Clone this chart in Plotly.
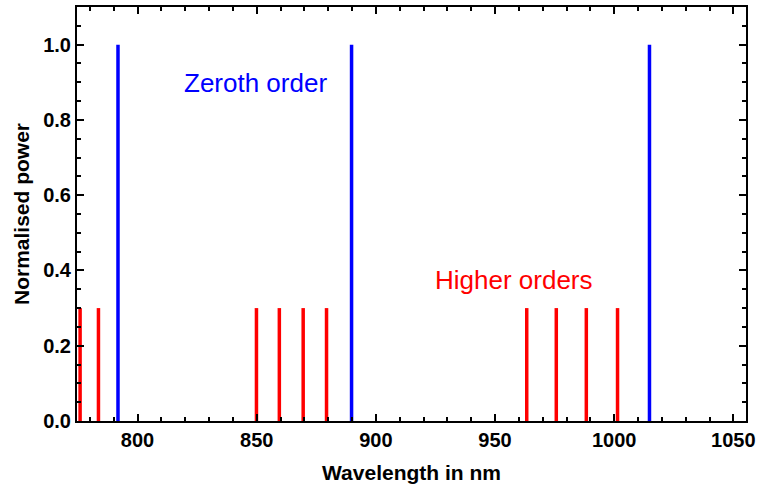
import plotly.graph_objects as go

# Line positions (nm) and normalised power
zeroth_wl = [791.8, 889.8, 1014.8]
zeroth_pw = [1.0, 1.0, 1.0]
higher_wl = [775.9, 783.6, 849.9, 859.5, 869.5, 879.3, 963.3, 975.7, 988.3, 1001.4]
higher_pw = [0.3] * len(higher_wl)

x_ticks = [800, 850, 900, 950, 1000, 1050]
y_ticks = [0.0, 0.2, 0.4, 0.6, 0.8, 1.0]


def stick_xy(wl, pw):
    xs, ys = [], []
    for w, p in zip(wl, pw):
        xs += [w, w, None]
        ys += [0, p, None]
    return xs, ys


fig = go.Figure()
hx, hy = stick_xy(higher_wl, higher_pw)
fig.add_trace(go.Scatter(x=hx, y=hy, mode="lines",
                         line=dict(color="#ff0000", width=3.5), showlegend=False))
zx, zy = stick_xy(zeroth_wl, zeroth_pw)
fig.add_trace(go.Scatter(x=zx, y=zy, mode="lines",
                         line=dict(color="#0000ff", width=3.5), showlegend=False))

fig.add_annotation(x=849.6, y=0.897, text="Zeroth order", showarrow=False,
                   font=dict(family="Liberation Sans, Arial", size=26, color="#0000ff"))
fig.add_annotation(x=958, y=0.375, text="Higher orders", showarrow=False,
                   font=dict(family="Liberation Sans, Arial", size=26, color="#ff0000"))

tick_font = dict(family="Liberation Sans, Arial", size=20, color="black", weight="bold")
title_font = dict(family="Liberation Sans, Arial", size=21, color="black", weight="bold")

fig.update_xaxes(range=[774.6, 1055.3], tickvals=x_ticks, ticktext=[str(v) for v in x_ticks],
                 ticks="inside", ticklen=7, tickwidth=2, tickcolor="black",
                 minor=dict(dtick=10, tick0=800, ticks="inside", ticklen=4, tickwidth=1.5, tickcolor="black"),
                 showline=True, linecolor="black", linewidth=2, mirror="ticks",
                 showgrid=False, zeroline=False, tickfont=tick_font,
                 title=dict(text="Wavelength in nm", font=title_font, standoff=15))
fig.update_yaxes(range=[0, 1.1], tickvals=y_ticks, ticktext=[f"{v:.1f}" for v in y_ticks],
                 ticks="inside", ticklen=7, tickwidth=2, tickcolor="black",
                 minor=dict(dtick=0.05, tick0=0, ticks="inside", ticklen=4, tickwidth=1.5, tickcolor="black"),
                 showline=True, linecolor="black", linewidth=2, mirror="ticks",
                 showgrid=False, zeroline=False, tickfont=tick_font,
                 title=dict(text="Normalised power", font=title_font, standoff=8))

fig.update_layout(width=761, height=486, margin=dict(l=77, r=11, t=5, b=65),
                  plot_bgcolor="white", paper_bgcolor="white")

fig.write_html("out.html")
